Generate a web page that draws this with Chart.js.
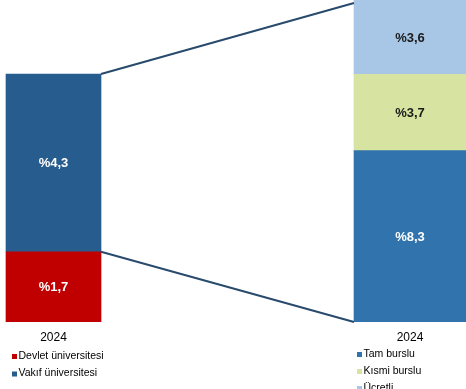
<!DOCTYPE html>
<html><head><meta charset="utf-8">
<style>html,body{margin:0;padding:0;background:#fff;}#wrap{position:relative;width:466px;height:389px;}</style>
<script src="https://cdn.jsdelivr.net/npm/chart.js@4"></script>
</head><body><div id="wrap"><canvas id="c" width="466" height="389"></canvas></div>
<script>
// ---- data ----
const xTickLabels = ['2024', '2024'];
const leftLabels = ['Devlet üniversitesi', 'Vakıf üniversitesi'];
const leftValues = [1.7, 4.3];
const rightLabels = ['Tam burslu', 'Kısmi burslu', 'Ücretli'];
const rightValues = [8.3, 3.7, 3.6];

// ---- styles ----
const leftColors = ['#C00000', '#275D8E'];
const leftTextColors = ['#ffffff', '#ffffff'];
const rightColors = ['#3173AC', '#D6E3A1', '#A8C6E6'];
const rightTextColors = ['#ffffff', '#1a1a1a', '#1a1a1a'];
const FONT = '"Liberation Sans", Arial, sans-serif';

const datasets = [];
leftLabels.forEach((l, i) => datasets.push({
  label: l, side: 'L', textColor: leftTextColors[i],
  data: [{x: 0, y: leftValues[i]}], yAxisID: 'yL', stack: 's',
  backgroundColor: leftColors[i], barThickness: 95, borderWidth: 0
}));
rightLabels.forEach((l, i) => datasets.push({
  label: l, side: 'R', textColor: rightTextColors[i],
  data: [{x: 1, y: rightValues[i]}], yAxisID: 'yR', stack: 's',
  backgroundColor: rightColors[i], barThickness: 112, borderWidth: 0
}));

const fmt = v => '%' + v.toFixed(1).replace('.', ',');

const extras = {
  id: 'extras',
  afterDatasetsDraw(chart) {
    const ctx = chart.ctx;
    const nL = leftLabels.length;
    // connector lines
    const mTopL = chart.getDatasetMeta(nL - 1).data[0];
    const mBotL = chart.getDatasetMeta(0).data[0];
    const mTopR = chart.getDatasetMeta(datasets.length - 1).data[0];
    const mBotR = chart.getDatasetMeta(nL).data[0];
    const xl = mTopL.x + mTopL.width / 2;
    const xr = mTopR.x - mTopR.width / 2;
    ctx.save();
    ctx.strokeStyle = '#284A6C';
    ctx.lineWidth = 2;
    ctx.beginPath();
    ctx.moveTo(xl, mTopL.y); ctx.lineTo(xr, mTopR.y + 3);
    ctx.moveTo(xl, mBotL.y); ctx.lineTo(xr, mBotR.base);
    ctx.stroke();
    // value labels
    ctx.font = 'bold 13px ' + FONT;
    ctx.textAlign = 'center';
    ctx.textBaseline = 'middle';
    datasets.forEach((ds, i) => {
      const el = chart.getDatasetMeta(i).data[0];
      ctx.fillStyle = ds.textColor;
      ctx.fillText(fmt(ds.data[0].y), el.x, (el.y + el.base) / 2 + 1);
    });
    ctx.restore();
  },
  afterDraw(chart) {
    const ctx = chart.ctx;
    ctx.save();
    ctx.font = '10.5px ' + FONT;
    ctx.textBaseline = 'middle';
    ctx.textAlign = 'left';
    const drawLegend = (side, x0, y0, step) => {
      let k = 0;
      datasets.forEach((ds, i) => {
        if (ds.side !== side) return;
        const y = y0 + k * step;
        ctx.fillStyle = ds.backgroundColor;
        ctx.fillRect(x0, y - 1.5, 5, 5);
        ctx.fillStyle = '#000';
        ctx.fillText(ds.label, x0 + 6.5, y + 0.5);
        k++;
      });
    };
    drawLegend('L', 12, 355.5, 17.5);
    drawLegend('R', 357, 353.5, 17);
    ctx.restore();
  }
};

new Chart(document.getElementById('c'), {
  type: 'bar',
  data: { datasets },
  options: {
    responsive: false,
    animation: false,
    layout: { padding: { left: 0, right: 0, top: 0, bottom: 36.6 } },
    plugins: { legend: { display: false }, tooltip: { enabled: false } },
    scales: {
      x: {
        type: 'linear', stacked: true, offset: false, min: -0.15007, max: 1.15708,
        afterBuildTicks: s => { s.ticks = xTickLabels.map((_, i) => ({ value: i })); },
        grid: { display: false, drawTicks: false }, border: { display: false },
        ticks: { autoSkip: false, padding: 8, color: '#000', font: { family: FONT, size: 12 },
                 callback: v => xTickLabels[v] }
      },
      yL: { display: false, stacked: true, min: 0, max: 7.79 },
      yR: { display: false, stacked: true, min: 0, max: 15.6 }
    }
  },
  plugins: [extras]
});
</script></body></html>
